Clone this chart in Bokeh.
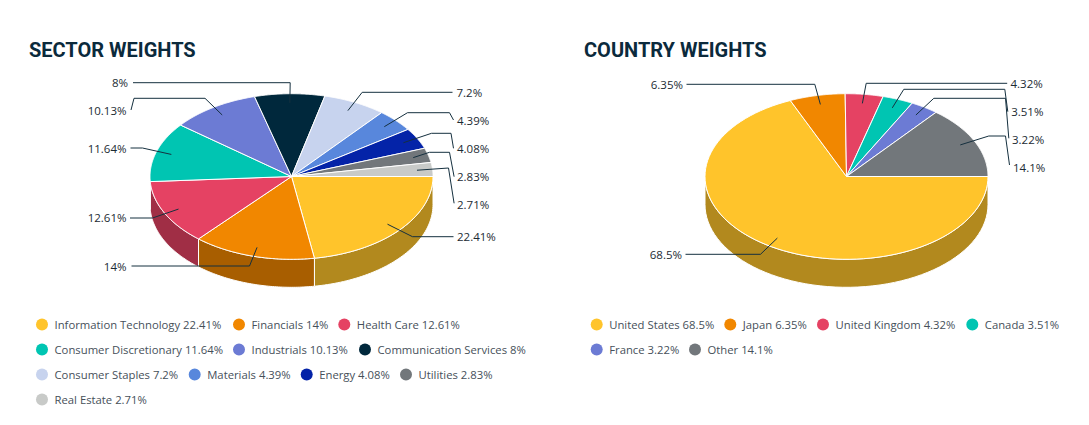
import numpy as np
from bokeh.plotting import figure
from bokeh.models import Range1d
from bokeh.core.properties import value
from bokeh.embed import file_html
from bokeh.resources import INLINE

# ---- data ----
sectors = ["Information Technology", "Financials", "Health Care", "Consumer Discretionary",
           "Industrials", "Communication Services", "Consumer Staples", "Materials",
           "Energy", "Utilities", "Real Estate"]
sector_values = [22.41, 14, 12.61, 11.64, 10.13, 8, 7.2, 4.39, 4.08, 2.83, 2.71]
sector_colors = ["#FFC42B", "#F18700", "#E54263", "#00C5B2", "#6C7BD4", "#00283C",
                 "#C7D3EE", "#5887DC", "#0423A8", "#72777B", "#C8CAC8"]
countries = ["United States", "Japan", "United Kingdom", "Canada", "France", "Other"]
country_values = [68.5, 6.35, 4.32, 3.51, 3.22, 14.1]
country_colors = ["#FFC42B", "#F18700", "#E54263", "#00C5B2", "#6C7BD4", "#72777B"]

# ---- layout (page pixels) ----
LEFT_PIE = (291.0, 176.0, 141.5, 82.8, 28.0)
RIGHT_PIE = (846.0, 176.0, 141.5, 82.8, 28.0)
ANCHOR = 0.89

left_lead = [
    [(453, 236.2), (412, 236.2)],
    [(131, 265.5), (249, 265.5)],
    [(129.5, 217.5), (152, 217.5)],
    [(130, 147.5), (142, 147.5)],
    [(130.5, 109.5), (133.5, 97.8), (204.5, 97.8)],
    [(132.5, 82.2), (289.7, 82.2)],
    [(452, 91.8), (361.7, 91.8)],
    [(453, 119.5), (449, 112.2), (407, 112.2)],
    [(453, 147.8), (450.5, 132.8), (431, 132.8)],
    [(453.6, 176.2), (449, 151.8), (429, 151.8)],
    [(453.6, 202.8), (448, 167.5)],
]
left_label = [(456.5, 236, "left"), (126, 266, "right"), (126, 217, "right"), (126, 148, "right"),
              (126, 110, "right"), (127.5, 82, "right"), (456, 92, "left"), (456.5, 120, "left"),
              (456.5, 148, "left"), (456.5, 176, "left"), (456.5, 204, "left")]
right_lead = [
    [(685, 253.8), (760, 253.8)],
    [(686, 83.8), (814.3, 83.8)],
    [(1006.7, 82.8), (865.7, 82.8)],
    [(1007.3, 111.2), (1004.3, 88.8), (903.3, 88.8)],
    [(1008.3, 137.8), (1005, 97.8), (933.3, 97.8)],
    [(1009, 164.5), (1005, 135.5), (988.3, 135.5)],
]
right_label = [(681.5, 254, "right"), (682.5, 84, "right"), (1010, 83, "left"),
               (1010.7, 111, "left"), (1011.5, 139, "left"), (1012.5, 167, "left")]

left_legend = [(41.5, 324), (238.5, 324), (343.8, 324), (41.5, 349), (238.5, 349), (364.5, 349),
               (41.5, 374), (194.2, 374), (306.2, 374), (405.5, 374), (41.5, 399)]
right_legend = [(596.2, 324), (729.8, 324), (822.5, 324), (971.8, 324), (596.2, 349), (694.5, 349)]

TEXT = "#1C2B33"
LEG = "#46505A"
TITLE = "#0B2A3C"

p = figure(width=1073, height=409, x_range=Range1d(0, 1073), y_range=Range1d(409, 0),
           output_backend="svg", toolbar_location=None, min_border=0)
p.axis.visible = False
p.grid.visible = False
p.outline_line_color = None
p.background_fill_color = "white"


def dark(c, f=0.7):
    return "#%02X%02X%02X" % tuple(int(int(c[i:i + 2], 16) * f) for i in (1, 3, 5))


def fmt(v):
    return f"{v:g}"


def draw_pie(vals, cols, geo, leads, labels):
    cx, cy, rx, ry, d = geo
    v = np.array(vals, float)
    edges = np.concatenate([[0], np.cumsum(v)]) / v.sum() * 2 * np.pi
    # side walls (front half only)
    wx, wy, wc = [], [], []
    for a, b, c in zip(edges[:-1], edges[1:], cols):
        a2, b2 = a, min(b, np.pi)
        if a2 >= np.pi:
            continue
        t = np.linspace(a2, b2, 60)
        xs = cx + rx * np.cos(t)
        ys = cy + ry * np.sin(t)
        wx.append(list(xs) + list(xs[::-1]))
        wy.append(list(ys) + list((ys + d)[::-1]))
        wc.append(dark(c))
    p.patches(wx, wy, fill_color=wc, line_color="white", line_width=1)
    # top slices
    tx, ty = [], []
    for a, b in zip(edges[:-1], edges[1:]):
        t = np.linspace(a, b, 90)
        tx.append([cx] + list(cx + rx * np.cos(t)))
        ty.append([cy] + list(cy + ry * np.sin(t)))
    p.patches(tx, ty, fill_color=list(cols), line_color="white", line_width=1)
    # leader lines
    mids = (edges[:-1] + edges[1:]) / 2
    lx, ly = [], []
    for m, pts in zip(mids, leads):
        lx.append([q[0] for q in pts] + [cx + ANCHOR * rx * np.cos(m)])
        ly.append([q[1] for q in pts] + [cy + ANCHOR * ry * np.sin(m)])
    p.multi_line(lx, ly, line_color="#15303F", line_width=1)
    # value labels
    for val, (x, y, al) in zip(vals, labels):
        p.text([x], [y], text=[fmt(val) + "%"], text_align=al, text_baseline="middle",
               text_font=value("Open Sans"), text_font_size=value("11.5px"), text_color=TEXT)


def draw_legend(names, vals, cols, pos):
    p.scatter([q[0] for q in pos], [q[1] for q in pos], size=12, marker="circle",
              fill_color=list(cols), line_color=None)
    for n, val, (x, y) in zip(names, vals, pos):
        p.text([x + 12.5], [y], text=[f"{n} {fmt(val)}%"], text_align="left", text_baseline="middle",
               text_font=value("Open Sans"), text_font_size=value("11.3px"), text_color=LEG)


draw_pie(sector_values, sector_colors, LEFT_PIE, left_lead, left_label)
draw_pie(country_values, country_colors, RIGHT_PIE, right_lead, right_label)
draw_legend(sectors, sector_values, sector_colors, left_legend)
draw_legend(countries, country_values, country_colors, right_legend)

for x, t in [(28.5, "SECTOR WEIGHTS"), (583.5, "COUNTRY WEIGHTS")]:
    p.text([x], [49], text=[t], text_align="left", text_baseline="middle",
           text_font=value("Roboto"), text_font_style="bold", text_font_size=value("20px"),
           text_color=TITLE)

open("out.html", "w").write(file_html(p, INLINE))
